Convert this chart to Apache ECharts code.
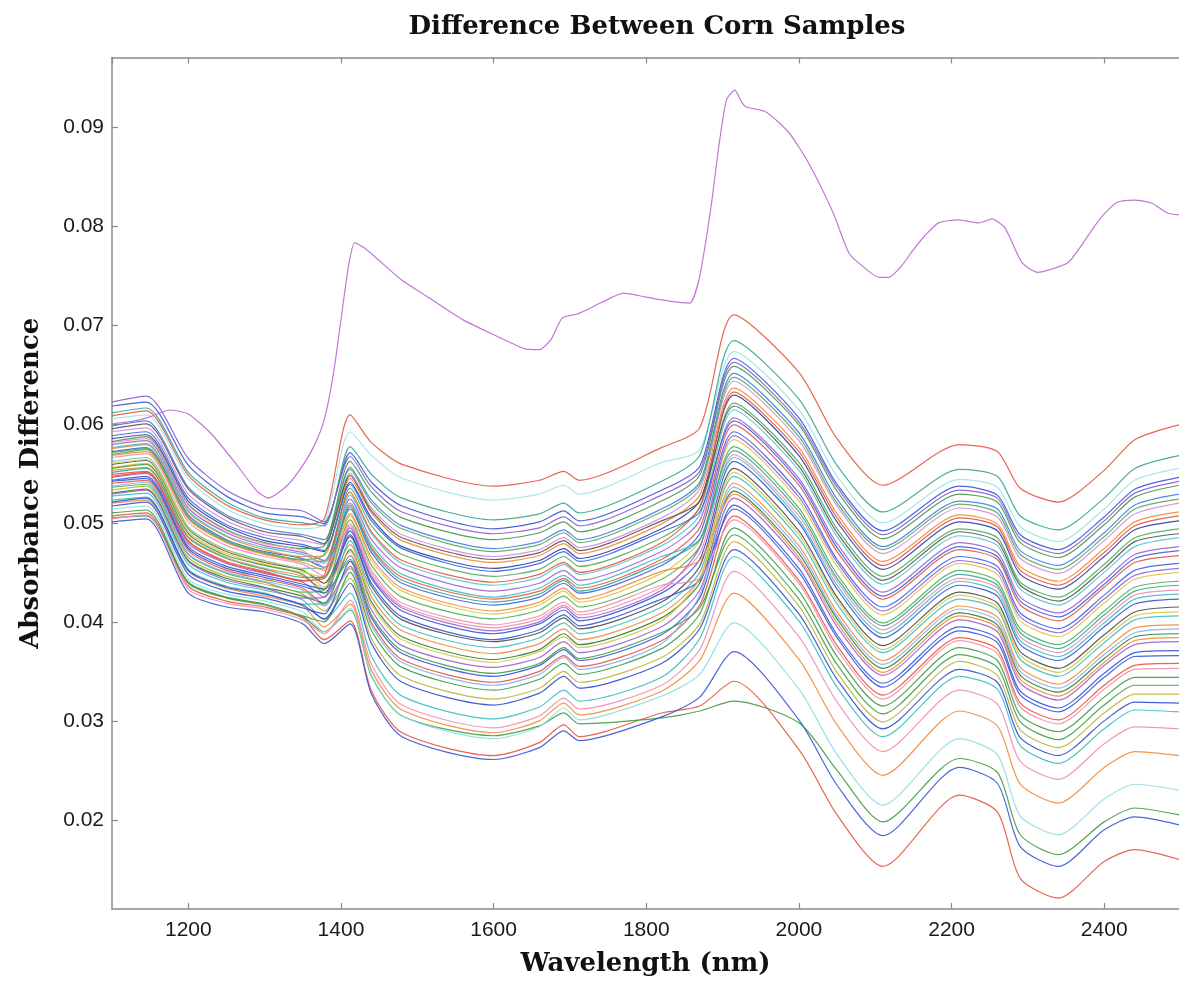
<!DOCTYPE html>
<html>
<head>
<meta charset="utf-8">
<script src="https://cdn.jsdelivr.net/npm/echarts@6/dist/echarts.min.js"></script>
<style>
html,body{margin:0;padding:0;background:#fff;}
#chart{width:1179px;height:982px;}
</style>
</head>
<body>
<div id="chart"></div>
<script>
// Wavelength sample points (nm) shared by the bundle of corn-sample difference spectra
const wavelengths = [1100,1145,1200,1250,1300,1350,1378,1412,1440,1480,1600,1660,1692,1712,1820,1870,1915,2000,2050,2110,2210,2260,2290,2340,2400,2440,2498];

// Absorbance difference of each sample, read at the wavelengths above
const line01 = [.0507,.0510,.0436,.0421,.0415,.0404,.0382,.0401,.0330,.0288,.0265,.0278,.0296,.0284,.0308,.0315,.0340,.0271,.0205,.0153,.0225,.0208,.0141,.0121,.0158,.0170,.0160];
const line02 = [.0505,.0507,.0440,.0425,.0418,.0405,.0390,.0412,.0345,.0305,.0285,.0295,.0308,.0297,.0303,.0310,.0320,.0298,.0250,.0198,.0262,.0248,.0185,.0165,.0198,.0212,.0205];
const line03 = [.0501,.0504,.0429,.0415,.0410,.0398,.0378,.0398,.0327,.0284,.0261,.0273,.0290,.0280,.0304,.0324,.0370,.0301,.0235,.0184,.0253,.0237,.0173,.0153,.0190,.0203,.0195];
const line04 = [.0514,.0517,.0443,.0428,.0421,.0410,.0390,.0414,.0346,.0305,.0282,.0294,.0313,.0301,.0325,.0347,.0399,.0332,.0266,.0215,.0282,.0266,.0204,.0185,.0221,.0236,.0230];
const line05 = [.0520,.0523,.0451,.0434,.0426,.0416,.0395,.0418,.0351,.0311,.0288,.0300,.0318,.0306,.0330,.0361,.0429,.0362,.0296,.0245,.0310,.0295,.0236,.0217,.0253,.0269,.0265];
const line06 = [.0504,.0508,.0433,.0419,.0413,.0402,.0388,.0422,.0357,.0316,.0293,.0305,.0323,.0312,.0336,.0372,.0451,.0385,.0319,.0269,.0331,.0317,.0259,.0241,.0277,.0294,.0292];
const line07 = [.0527,.0530,.0458,.0440,.0432,.0422,.0402,.0429,.0365,.0325,.0302,.0314,.0331,.0320,.0344,.0383,.0466,.0401,.0334,.0284,.0345,.0332,.0275,.0257,.0292,.0311,.0309];
const line08 = [.0533,.0537,.0465,.0446,.0438,.0428,.0411,.0444,.0383,.0345,.0322,.0333,.0350,.0339,.0364,.0398,.0481,.0416,.0349,.0299,.0360,.0346,.0291,.0273,.0308,.0327,.0327];
const line09 = [.0510,.0513,.0439,.0424,.0417,.0406,.0400,.0450,.0391,.0354,.0331,.0342,.0358,.0347,.0373,.0408,.0495,.0431,.0365,.0315,.0374,.0361,.0306,.0289,.0324,.0344,.0344];
const line10 = [.0540,.0543,.0472,.0452,.0443,.0434,.0418,.0456,.0399,.0362,.0339,.0350,.0366,.0355,.0381,.0417,.0507,.0442,.0376,.0326,.0384,.0372,.0318,.0301,.0336,.0356,.0358];
const line11 = [.0517,.0521,.0448,.0431,.0424,.0414,.0408,.0461,.0404,.0368,.0345,.0356,.0372,.0361,.0387,.0424,.0518,.0454,.0387,.0338,.0395,.0383,.0330,.0313,.0348,.0369,.0371];
const line12 = [.0546,.0550,.0479,.0459,.0449,.0440,.0425,.0467,.0412,.0376,.0354,.0364,.0380,.0369,.0395,.0432,.0525,.0462,.0395,.0346,.0402,.0390,.0338,.0321,.0356,.0377,.0380];
const line13 = [.0530,.0534,.0462,.0444,.0435,.0426,.0419,.0473,.0420,.0385,.0362,.0372,.0388,.0377,.0404,.0439,.0532,.0469,.0403,.0353,.0409,.0397,.0346,.0329,.0363,.0385,.0388];
const line14 = [.0553,.0556,.0486,.0465,.0454,.0446,.0433,.0478,.0425,.0391,.0368,.0378,.0393,.0382,.0409,.0444,.0540,.0477,.0410,.0361,.0416,.0405,.0354,.0337,.0371,.0394,.0397];
const line15 = [.0523,.0526,.0453,.0436,.0429,.0418,.0418,.0482,.0431,.0396,.0374,.0384,.0399,.0388,.0415,.0450,.0547,.0484,.0418,.0369,.0423,.0412,.0362,.0345,.0379,.0402,.0406];
const line16 = [.0559,.0563,.0494,.0471,.0460,.0452,.0439,.0486,.0436,.0402,.0380,.0389,.0404,.0393,.0420,.0456,.0555,.0492,.0425,.0376,.0430,.0419,.0370,.0353,.0387,.0410,.0415];
const line17 = [.0543,.0547,.0476,.0456,.0447,.0438,.0433,.0492,.0444,.0411,.0388,.0398,.0412,.0401,.0429,.0463,.0562,.0500,.0433,.0384,.0437,.0426,.0377,.0361,.0395,.0418,.0423];
const line18 = [.0566,.0570,.0501,.0477,.0466,.0458,.0446,.0497,.0449,.0416,.0394,.0403,.0417,.0407,.0435,.0469,.0569,.0507,.0441,.0392,.0444,.0434,.0385,.0369,.0403,.0427,.0432];
const line19 = [.0536,.0539,.0468,.0449,.0440,.0430,.0432,.0503,.0457,.0425,.0403,.0412,.0426,.0415,.0443,.0476,.0577,.0515,.0448,.0399,.0452,.0441,.0393,.0377,.0411,.0435,.0441];
const line20 = [.0556,.0560,.0491,.0469,.0458,.0450,.0445,.0507,.0462,.0431,.0408,.0417,.0431,.0420,.0449,.0482,.0584,.0522,.0456,.0407,.0459,.0448,.0401,.0385,.0419,.0443,.0450];
const line21 = [.0572,.0576,.0508,.0483,.0471,.0464,.0455,.0514,.0470,.0439,.0417,.0425,.0439,.0429,.0457,.0489,.0592,.0530,.0463,.0415,.0466,.0456,.0409,.0393,.0427,.0452,.0459];
const line22 = [.0549,.0552,.0482,.0461,.0451,.0442,.0444,.0518,.0475,.0445,.0423,.0431,.0444,.0434,.0463,.0495,.0599,.0538,.0471,.0423,.0473,.0463,.0417,.0401,.0435,.0460,.0467];
const line23 = [.0579,.0583,.0515,.0490,.0477,.0470,.0462,.0524,.0483,.0454,.0431,.0439,.0452,.0442,.0471,.0502,.0606,.0545,.0479,.0430,.0480,.0470,.0425,.0409,.0442,.0468,.0476];
const line24 = [.0562,.0566,.0496,.0473,.0462,.0454,.0454,.0528,.0489,.0459,.0437,.0445,.0458,.0448,.0477,.0508,.0614,.0553,.0486,.0438,.0487,.0477,.0433,.0417,.0450,.0476,.0485];
const line25 = [.0569,.0574,.0505,.0481,.0469,.0462,.0461,.0535,.0497,.0468,.0446,.0453,.0466,.0456,.0485,.0515,.0621,.0561,.0494,.0446,.0494,.0485,.0440,.0425,.0458,.0485,.0494];
const line26 = [.0585,.0589,.0522,.0496,.0482,.0476,.0471,.0541,.0505,.0476,.0454,.0462,.0474,.0464,.0494,.0522,.0629,.0568,.0501,.0453,.0501,.0492,.0448,.0433,.0466,.0493,.0502];
const line27 = [.0575,.0579,.0511,.0486,.0473,.0466,.0467,.0545,.0510,.0482,.0460,.0467,.0479,.0469,.0499,.0528,.0636,.0576,.0509,.0461,.0508,.0499,.0456,.0441,.0474,.0501,.0511];
const line28 = [.0592,.0596,.0529,.0502,.0488,.0482,.0478,.0550,.0515,.0488,.0466,.0473,.0485,.0475,.0505,.0534,.0643,.0583,.0517,.0469,.0515,.0506,.0464,.0449,.0482,.0509,.0520];
const line29 = [.0598,.0603,.0536,.0508,.0494,.0488,.0483,.0556,.0523,.0497,.0474,.0481,.0493,.0483,.0514,.0541,.0651,.0591,.0524,.0476,.0522,.0514,.0472,.0457,.0490,.0518,.0529];
const line30 = [.0582,.0587,.0519,.0493,.0480,.0474,.0477,.0562,.0531,.0505,.0483,.0490,.0501,.0491,.0522,.0548,.0658,.0599,.0532,.0484,.0529,.0521,.0480,.0465,.0498,.0526,.0538];
const line31 = [.0605,.0609,.0544,.0514,.0499,.0494,.0499,.0592,.0568,.0545,.0523,.0529,.0538,.0529,.0561,.0574,.0673,.0614,.0547,.0500,.0544,.0536,.0496,.0481,.0514,.0543,.0555];
const line32 = [.0618,.0622,.0558,.0527,.0510,.0506,.0499,.0571,.0541,.0517,.0494,.0501,.0512,.0502,.0533,.0557,.0666,.0606,.0539,.0492,.0537,.0528,.0488,.0473,.0506,.0534,.0546];
const line33 = [.0611,.0616,.0551,.0521,.0505,.0500,.0497,.0577,.0549,.0525,.0503,.0509,.0520,.0510,.0542,.0568,.0684,.0625,.0558,.0511,.0554,.0547,.0507,.0493,.0525,.0555,.0568];
const line34 = [.0608,.0613,.0548,.0518,.0503,.0498,.0504,.0609,.0581,.0559,.0537,.0543,.0552,.0543,.0576,.0596,.0710,.0652,.0585,.0538,.0579,.0572,.0535,.0521,.0553,.0584,.0599];
const line35 = [.0622,.0628,.0565,.0533,.0516,.0512,.0501,.0567,.0536,.0511,.0489,.0495,.0506,.0497,.0528,.0552,.0662,.0602,.0536,.0488,.0533,.0525,.0484,.0469,.0502,.0530,.0542];
const line36 = [.0542,.0545,.0474,.0454,.0445,.0436,.0429,.0488,.0439,.0405,.0382,.0392,.0407,.0396,.0423,.0442,.0514,.0450,.0384,.0334,.0391,.0379,.0326,.0309,.0344,.0365,.0366];
const line37 = [.0555,.0559,.0489,.0467,.0457,.0448,.0429,.0463,.0407,.0371,.0348,.0358,.0374,.0363,.0389,.0414,.0488,.0423,.0357,.0307,.0367,.0354,.0299,.0281,.0316,.0336,.0336];
const line38 = [.0568,.0572,.0504,.0480,.0468,.0460,.0452,.0509,.0465,.0434,.0411,.0420,.0434,.0423,.0451,.0462,.0529,.0465,.0399,.0349,.0406,.0394,.0342,.0325,.0359,.0381,.0384];
const line39 = [.0529,.0533,.0461,.0442,.0434,.0424,.0425,.0495,.0446,.0414,.0391,.0400,.0415,.0404,.0432,.0475,.0588,.0526,.0460,.0411,.0462,.0452,.0405,.0389,.0423,.0447,.0454];
const line40 = [.0576,.0580,.0512,.0487,.0475,.0468,.0459,.0520,.0478,.0448,.0425,.0434,.0447,.0437,.0466,.0483,.0566,.0503,.0437,.0388,.0441,.0430,.0381,.0365,.0399,.0423,.0428];
const line41 = [.0547,.0551,.0481,.0460,.0450,.0441,.0447,.0531,.0491,.0462,.0440,.0448,.0460,.0450,.0480,.0516,.0632,.0572,.0505,.0457,.0505,.0496,.0452,.0437,.0470,.0497,.0507];
const line42 = [.0588,.0592,.0525,.0498,.0485,.0478,.0472,.0539,.0502,.0474,.0451,.0459,.0471,.0461,.0491,.0511,.0603,.0542,.0475,.0426,.0476,.0466,.0421,.0405,.0438,.0464,.0472];
const line43 = [.0560,.0564,.0495,.0472,.0461,.0453,.0435,.0471,.0417,.0382,.0359,.0370,.0385,.0374,.0401,.0444,.0551,.0488,.0422,.0372,.0427,.0415,.0366,.0349,.0383,.0406,.0410];
const line44 = [.0571,.0575,.0506,.0482,.0470,.0463,.0468,.0554,.0520,.0494,.0471,.0478,.0490,.0480,.0511,.0538,.0647,.0587,.0520,.0473,.0519,.0510,.0468,.0453,.0486,.0514,.0524];
const line45 = [.0581,.0585,.0518,.0492,.0479,.0472,.0455,.0499,.0452,.0419,.0397,.0406,.0420,.0410,.0437,.0444,.0503,.0439,.0372,.0322,.0381,.0368,.0314,.0297,.0332,.0352,.0353];
const line46 = [.0521,.0525,.0452,.0435,.0428,.0417,.0403,.0439,.0378,.0339,.0316,.0328,.0345,.0333,.0358,.0393,.0473,.0408,.0342,.0292,.0352,.0339,.0283,.0265,.0300,.0319,.0318];
const line47 = [.0595,.0600,.0534,.0506,.0491,.0486,.0479,.0548,.0512,.0485,.0463,.0470,.0482,.0472,.0502,.0522,.0618,.0557,.0490,.0442,.0491,.0481,.0437,.0421,.0454,.0481,.0489];
const line48 = [.0551,.0555,.0485,.0464,.0453,.0445,.0445,.0516,.0473,.0442,.0420,.0428,.0442,.0431,.0460,.0483,.0573,.0511,.0444,.0396,.0448,.0437,.0389,.0373,.0407,.0431,.0437];
const line49 = [.0537,.0541,.0469,.0450,.0441,.0432,.0416,.0454,.0396,.0359,.0336,.0347,.0364,.0352,.0378,.0427,.0536,.0473,.0406,.0357,.0413,.0401,.0350,.0333,.0367,.0389,.0393];

// The single outlying sample at the top of the plot
const outlierWavelengths = [1100,1130,1150,1175,1200,1230,1260,1290,1305,1330,1350,1365,1378,1390,1400,1410,1418,1430,1450,1480,1520,1560,1600,1640,1660,1675,1690,1710,1740,1770,1800,1830,1857,1870,1885,1895,1905,1916,1925,1931,1957,1987,2013,2045,2066,2090,2105,2118,2135,2149,2165,2183,2209,2235,2245,2253,2270,2292,2313,2330,2353,2370,2384,2400,2418,2440,2462,2483,2498];
const outlierValues = [.0600,.0603,.0607,.0614,.0610,.0590,.0562,.0532,.0525,.0538,.0558,.0578,.0604,.0650,.0705,.0760,.0783,.0778,.0765,.0745,.0725,.0705,.0690,.0676,.0675,.0685,.0707,.0711,.0722,.0732,.0728,.0724,.0722,.0749,.0820,.0880,.0927,.0937,.0925,.0920,.0915,.0894,.0863,.0813,.0772,.0755,.0748,.0748,.0760,.0775,.0790,.0803,.0806,.0803,.0805,.0807,.0798,.0763,.0753,.0756,.0763,.0780,.0796,.0812,.0824,.0826,.0823,.0813,.0811];

const xTickLabels = ['1200','1400','1600','1800','2000','2200','2400'];
const yTickLabels = ['0.02','0.03','0.04','0.05','0.06','0.07','0.08','0.09'];

// Styles (kept apart from the data)
const bundle = [line01,line02,line03,line04,line05,line06,line07,line08,line09,line10,line11,line12,line13,line14,line15,line16,line17,line18,line19,line20,line21,line22,line23,line24,line25,line26,line27,line28,line29,line30,line31,line32,line33,line34,line35,line36,line37,line38,line39,line40,line41,line42,line43,line44,line45,line46,line47,line48,line49];
const bundleColors = ['#e4553e','#3f9a45','#3554d6','#8fdde2','#ef8a3c','#f08fb0','#3fbcc2','#bdb33c','#3f9a45','#e4553e','#3554d6','#9b62d2','#2f7d3a','#ef8a3c','#3fbcc2','#4d4d4d','#3554d6','#f08fb0','#4fae55','#d8c84a','#3a62e0','#e4553e','#9b62d2','#55c8cc','#4fae55','#2540a8','#ef8a3c','#d98be0','#4a78e6','#3f9a45','#9fe3e8','#3554d6','#35a58e','#e4553e','#8c5cd0',
  '#3554d6','#3f9a45','#ef8a3c','#9b62d2','#3fbcc2','#e4553e','#3a62e0','#d8c84a','#4fae55','#f08fb0','#2f4fcf','#555555','#35a58e','#7fb0f0'];

const chart = echarts.init(document.getElementById('chart'), null, {renderer:'canvas'});
const series = bundle.map((vals, k) => ({
  type: 'line',
  xAxisIndex: 0,
  yAxisIndex: 0,
  data: wavelengths.map((w, i) => [w, vals[i]]),
  showSymbol: false,
  smooth: 0.25,
  silent: true,
  lineStyle: { width: 1.2, color: bundleColors[k], opacity: 0.9 },
  animation: false
}));
series.push({
  type: 'line',
  xAxisIndex: 0,
  yAxisIndex: 0,
  data: outlierWavelengths.map((w, i) => [w, outlierValues[i]]),
  showSymbol: false,
  smooth: 0.2,
  silent: true,
  lineStyle: { width: 1.2, color: '#c277d6' },
  animation: false
});

const axisGray = '#8a8a8a';
const labelFont = { fontFamily: 'Liberation Sans', fontSize: 21, color: '#1a1a1a' };
const serifBold = { fontFamily: 'DejaVu Serif', fontWeight: 'bold', color: '#111' };

chart.setOption({
  animation: false,
  backgroundColor: '#ffffff',
  title: {
    text: 'Difference Between Corn Samples',
    left: 652,
    top: 9,
    textAlign: 'center',
    textStyle: Object.assign({ fontSize: 26 }, serifBold)
  },
  grid: { left: 112, top: 57.5, right: -5, bottom: 72.7, containLabel: false },
  xAxis: [{
    type: 'value',
    min: 1100, max: 2498,
    splitNumber: 7,
    position: 'bottom',
    name: 'Wavelength (nm)',
    nameLocation: 'middle',
    nameGap: 42,
    nameTextStyle: Object.assign({ fontSize: 26 }, serifBold),
    axisLine: { show: true, lineStyle: { color: axisGray, width: 1.5 } },
    axisTick: { show: true, inside: true, length: 6, lineStyle: { color: axisGray, width: 1.2 } },
    axisLabel: Object.assign({
      margin: 11,
      showMinLabel: false, showMaxLabel: false,
      formatter: v => { const s = String(Math.round(v)); return xTickLabels.includes(s) ? s : ''; }
    }, labelFont),
    splitLine: { show: false }
  }, {
    type: 'value',
    min: 1100, max: 2498,
    splitNumber: 7,
    position: 'top',
    axisLine: { show: true, lineStyle: { color: axisGray, width: 1.5 } },
    axisTick: { show: true, inside: true, length: 6, lineStyle: { color: axisGray, width: 1.2 } },
    axisLabel: { show: false },
    splitLine: { show: false }
  }],
  yAxis: [{
    type: 'value',
    min: 0.011, max: 0.097,
    splitNumber: 8,
    name: 'Absorbance Difference',
    nameLocation: 'middle',
    nameGap: 68,
    nameRotate: 90,
    nameTextStyle: Object.assign({ fontSize: 26 }, serifBold),
    axisLine: { show: true, lineStyle: { color: axisGray, width: 1.5 } },
    axisTick: { show: true, inside: true, length: 6, lineStyle: { color: axisGray, width: 1.2 } },
    axisLabel: Object.assign({
      margin: 8,
      showMinLabel: false, showMaxLabel: false,
      formatter: v => { const s = v.toFixed(2); return yTickLabels.includes(s) && Math.abs(v - Number(s)) < 1e-6 ? s : ''; }
    }, labelFont),
    splitLine: { show: false }
  }],
  series: series
});
</script>
</body>
</html>
